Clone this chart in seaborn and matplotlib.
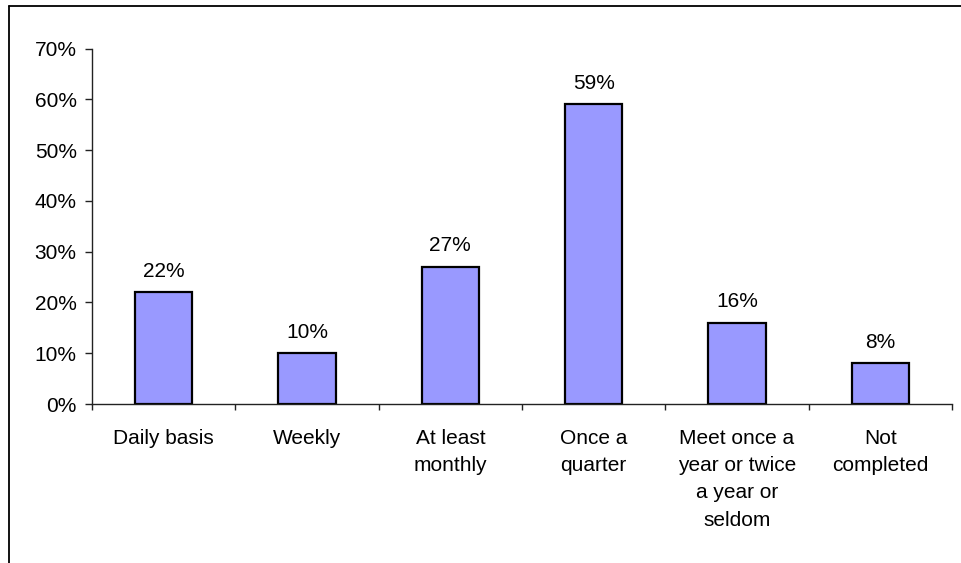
import matplotlib
matplotlib.use("Agg")
import matplotlib.pyplot as plt
from matplotlib.lines import Line2D
from matplotlib.ticker import FixedLocator, PercentFormatter, NullFormatter
import seaborn as sns
import pandas as pd

categories = ["Daily basis", "Weekly", "At least\nmonthly", "Once a\nquarter",
              "Meet once a\nyear or twice\na year or\nseldom", "Not\ncompleted"]
values = [22, 10, 27, 59, 16, 8]
y_ticks = [0, 10, 20, 30, 40, 50, 60, 70]

sns.set_theme(style="white")
plt.rcParams["font.family"] = ["Liberation Sans", "DejaVu Sans"]

W, H = 962, 563
fig = plt.figure(figsize=(W / 100, H / 100), dpi=100)
ax = fig.add_axes([92 / W, 1 - 404 / H, (952 - 92) / W, (404 - 48.5) / H])

df = pd.DataFrame({"category": categories, "share": values})
sns.barplot(data=df, x="category", y="share", color="#9999FF", saturation=1,
            edgecolor="black", linewidth=1.6, width=0.4, ax=ax)

for i, v in enumerate(values):
    ax.text(i, v + 2.3, f"{v}%", ha="center", va="bottom", fontsize=15, color="black")

ax.set_xlim(-0.5, len(categories) - 0.5)
ax.set_ylim(0, 70)
ax.set_yticks(y_ticks)
ax.yaxis.set_major_formatter(PercentFormatter(decimals=0))
ax.set_xlabel("")
ax.set_ylabel("")

# category labels centred under bars, tick marks at category boundaries
ax.set_xticks(range(len(categories)))
ax.set_xticklabels(categories, ha="center", linespacing=1.55)
ax.xaxis.set_minor_locator(FixedLocator([i - 0.5 for i in range(len(categories) + 1)]))
ax.xaxis.set_minor_formatter(NullFormatter())
ax.tick_params(axis="x", which="major", length=0, pad=18, labelsize=15,
               labelcolor="black")
ax.tick_params(axis="x", which="minor", length=4.5, width=1, color="#222222",
               direction="out", bottom=True)
ax.tick_params(axis="y", which="major", length=5, width=1, color="#222222",
               direction="out", left=True, pad=6, labelsize=15, labelcolor="black")

for side in ("top", "right"):
    ax.spines[side].set_visible(False)
for side in ("left", "bottom"):
    ax.spines[side].set_color("#222222")
    ax.spines[side].set_linewidth(1)

# outer frame along the top and left edges
fig.add_artist(Line2D([9 / W, 1], [1 - 6 / H, 1 - 6 / H], transform=fig.transFigure,
                      color="black", linewidth=1.3))
fig.add_artist(Line2D([9 / W, 9 / W], [0, 1 - 6 / H], transform=fig.transFigure,
                      color="black", linewidth=1.3))

fig.savefig("out.png", dpi=100, facecolor="white")
